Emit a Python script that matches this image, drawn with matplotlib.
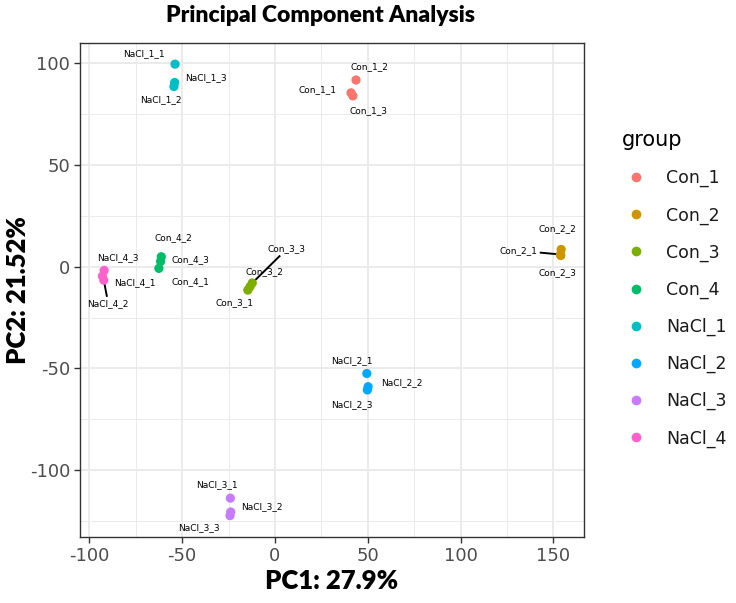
import matplotlib
matplotlib.use("Agg")
import matplotlib.pyplot as plt
from matplotlib.lines import Line2D
import numpy as np

plt.rcParams["font.family"] = ["DejaVu Sans"]
plt.rcParams["axes.unicode_minus"] = False

# ---------------- data ----------------
groups = ["Con_1", "Con_2", "Con_3", "Con_4", "NaCl_1", "NaCl_2", "NaCl_3", "NaCl_4"]
colors = ["#F8766D", "#CD9600", "#7CAE00", "#00BE67", "#00BFC4", "#00A9FF", "#C77CFF", "#FF61CC"]

samples = ["Con_1_1", "Con_1_2", "Con_1_3",
           "Con_2_1", "Con_2_2", "Con_2_3",
           "Con_3_1", "Con_3_2", "Con_3_3",
           "Con_4_1", "Con_4_2", "Con_4_3",
           "NaCl_1_1", "NaCl_1_2", "NaCl_1_3",
           "NaCl_2_1", "NaCl_2_2", "NaCl_2_3",
           "NaCl_3_1", "NaCl_3_2", "NaCl_3_3",
           "NaCl_4_1", "NaCl_4_2", "NaCl_4_3"]
pc1 = [41.0, 43.7, 42.0,
       153.8, 154.2, 154.0,
       -14.6, -13.4, -12.2,
       -62.5, -61.2, -61.6,
       -53.8, -54.4, -54.0,
       49.5, 50.2, 49.8,
       -24.0, -23.8, -24.2,
       -92.9, -92.2, -92.0]
pc2 = [85.5, 91.8, 84.0,
       6.0, 8.5, 5.5,
       -11.5, -9.8, -8.0,
       -0.8, 4.9, 2.6,
       99.6, 88.6, 90.6,
       -52.5, -59.0, -60.6,
       -113.8, -120.6, -122.4,
       -4.6, -6.6, -1.8]
sample_group = [s.rsplit("_", 1)[0] for s in samples]

x_title = "PC1: 27.9%"
y_title = "PC2: 21.52%"
title = "Principal Component Analysis"
x_ticks = [-100, -50, 0, 50, 100, 150]
y_ticks = [-100, -50, 0, 50, 100]

# label placement (ggrepel-like, data coordinates)
label_pos = {
    "NaCl_1_1": (-70.5, 104.8), "NaCl_1_3": (-37.3, 93.1), "NaCl_1_2": (-61.5, 82.1),
    "Con_1_2": (50.9, 98.2), "Con_1_1": (22.8, 87.0), "Con_1_3": (50.5, 76.6),
    "Con_4_2": (-54.7, 14.5), "Con_4_3": (-45.7, 3.6), "Con_4_1": (-45.4, -7.2),
    "NaCl_4_3": (-84.4, 4.6), "NaCl_4_1": (-75.4, -7.7), "NaCl_4_2": (-89.8, -18.0),
    "Con_3_1": (-21.9, -17.9), "Con_3_2": (-5.7, -2.3), "Con_3_3": (6.4, 8.7),
    "Con_2_2": (152.2, 18.6), "Con_2_1": (131.4, 7.9), "Con_2_3": (152.2, -3.0),
    "NaCl_2_1": (41.4, -46.3), "NaCl_2_2": (68.3, -56.9), "NaCl_2_3": (41.4, -67.6),
    "NaCl_3_1": (-31.4, -107.2), "NaCl_3_2": (-6.8, -118.2), "NaCl_3_3": (-40.7, -128.1),
}
segment_labels = ["Con_3_3", "Con_2_1", "NaCl_4_2"]

# ---------------- figure ----------------
W, H, DPI = 736, 603, 100
fig = plt.figure(figsize=(W / DPI, H / DPI), dpi=DPI)
ax = fig.add_axes([80 / W, 1 - 537 / H, (584 - 80) / W, (537 - 43) / H])

ax.set_xlim(-105.0, 166.5)
ax.set_ylim(-132.9, 110.0)

grid_c = "#EBEBEB"
for t in x_ticks:
    ax.axvline(t, color=grid_c, lw=1.4, zorder=0)
for t in y_ticks:
    ax.axhline(t, color=grid_c, lw=1.4, zorder=0)
for t in np.arange(-125, 175, 50):
    ax.axvline(t, color=grid_c, lw=0.7, zorder=0)
for t in np.arange(-125, 125, 50):
    ax.axhline(t, color=grid_c, lw=0.7, zorder=0)

for sp in ax.spines.values():
    sp.set_color("#333333")
    sp.set_linewidth(1.0)

ax.set_xticks(x_ticks)
ax.set_yticks(y_ticks)
ax.tick_params(axis="both", length=4, width=1.0, color="#333333",
               labelsize=13, labelcolor="#4D4D4D", pad=3)

col_map = dict(zip(groups, colors))
for g in groups:
    xs = [x for x, sg in zip(pc1, sample_group) if sg == g]
    ys = [y for y, sg in zip(pc2, sample_group) if sg == g]
    ax.scatter(xs, ys, s=44, color=col_map[g], edgecolors="none", zorder=3)

texts = {}
for s, x, y in zip(samples, pc1, pc2):
    lx, ly = label_pos[s]
    texts[s] = ax.text(lx, ly, s, fontsize=6.5, color="black",
                       ha="center", va="center", zorder=4)

# segments from point to label edge
fig.canvas.draw()
renderer = fig.canvas.get_renderer()
inv = ax.transData.inverted()
for s in segment_labels:
    i = samples.index(s)
    p = ax.transData.transform((pc1[i], pc2[i]))
    bb = texts[s].get_window_extent(renderer)
    c = np.array([(bb.x0 + bb.x1) / 2, (bb.y0 + bb.y1) / 2])
    d = c - p
    pad = 2
    hw = (bb.x1 - bb.x0) / 2 + pad
    hh = (bb.y1 - bb.y0) / 2 + pad
    tx = 1 - hw / abs(d[0]) if d[0] != 0 else 1
    ty = 1 - hh / abs(d[1]) if d[1] != 0 else 1
    t = max(min(max(tx, ty), 1), 0)
    e = p + d * t
    p_d = inv.transform(p)
    e_d = inv.transform(e)
    ax.plot([p_d[0], e_d[0]], [p_d[1], e_d[1]], color="black", lw=1.4,
            zorder=2, solid_capstyle="butt")

bold_font = ["Lato", "DejaVu Sans"]
fig.text(320 / W, 1 - 16 / H, title, fontsize=16.5, fontweight="heavy",
         family=bold_font, ha="center", va="center")
fig.text(332 / W, 1 - 581 / H, x_title, fontsize=18.5, fontweight="heavy",
         family=bold_font, ha="center", va="center")
fig.text(18 / W, 1 - 290 / H, y_title, fontsize=18.5, fontweight="heavy",
         family=bold_font, ha="center", va="center", rotation=90)

handles = [Line2D([0], [0], marker="o", ls="none", markersize=7,
                  markerfacecolor=c, markeredgecolor="none") for c in colors]
leg = fig.legend(handles, groups, loc="upper left",
                 bbox_to_anchor=(610 / W, 1 - 118 / H), frameon=False,
                 fontsize=12.5, title="group", title_fontsize=15,
                 labelspacing=1.09, handletextpad=0.95, handlelength=1.6,
                 borderpad=0.2, alignment="left")
for t in leg.get_texts():
    t.set_color("#1A1A1A")

fig.savefig("out.png", dpi=DPI)
